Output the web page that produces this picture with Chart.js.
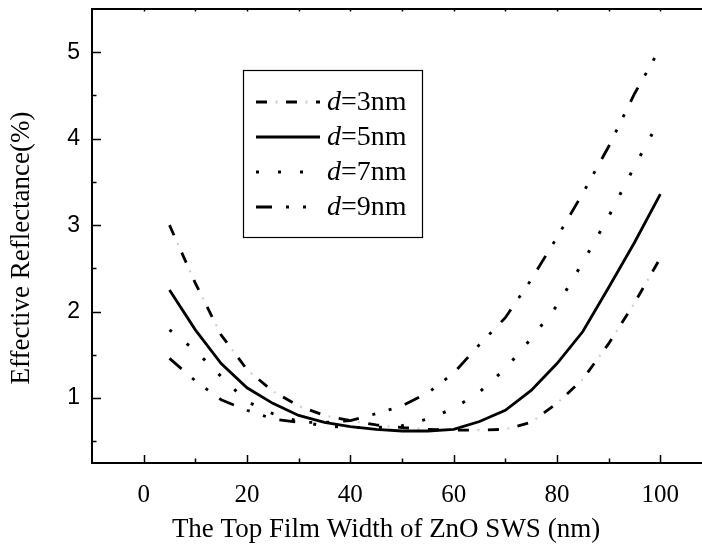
<!DOCTYPE html>
<html>
<head>
<meta charset="utf-8">
<script src="https://cdn.jsdelivr.net/npm/chart.js@4"></script>
<style>
  html, body { margin: 0; padding: 0; background: #fff; overflow: hidden; }
  #wrap { position: relative; width: 740px; height: 550px; }
</style>
</head>
<body>
<div id="wrap"><canvas id="chart"></canvas></div>
<script>
// Film width (nm)
const widths = [5, 10, 15, 20, 25, 30, 35, 40, 45, 50, 55, 60, 65, 70, 75, 80, 85, 90, 95, 100];
// Effective reflectance (%) per layer thickness d
const d3 = [3.00, 2.33, 1.73, 1.33, 1.08, 0.91, 0.80, 0.74, 0.69, 0.66, 0.64, 0.63, 0.63, 0.64, 0.72, 0.94, 1.22, 1.63, 2.10, 2.62];
const d5 = [2.25, 1.79, 1.40, 1.12, 0.94, 0.80, 0.72, 0.67, 0.64, 0.62, 0.62, 0.64, 0.73, 0.86, 1.09, 1.40, 1.77, 2.28, 2.80, 3.36];
const d7 = [1.79, 1.55, 1.25, 0.96, 0.82, 0.73, 0.68, 0.66, 0.66, 0.68, 0.76, 0.88, 1.07, 1.34, 1.69, 2.07, 2.57, 3.10, 3.68, 4.23];
const d9 = [1.46, 1.20, 0.98, 0.86, 0.76, 0.72, 0.72, 0.74, 0.82, 0.91, 1.06, 1.29, 1.62, 1.93, 2.37, 2.86, 3.37, 3.91, 4.52, 5.05];

const xTicks = [0, 20, 40, 60, 80, 100];
const yTicks = [1, 2, 3, 4, 5];
const legendLabels = ['3nm', '5nm', '7nm', '9nm'];

const xTitle = 'The Top Film Width of ZnO SWS (nm)';
const yTitle = 'Effective Reflectance(%)';

function pts(ys) {
    return widths.map((x, i) => ({ x: x, y: ys[i] }));
}

const styles = [
    { dash: [11, 19], width: 2.8 },
    { dash: [], width: 2.8 },
    { dash: [3, 19], width: 3 },
    { dash: [16, 14, 3, 14, 3, 14], width: 2.8 }
];
const series = [d3, d5, d7, d9];

const datasets = series.map((s, i) => ({
    label: 'd=' + legendLabels[i],
    data: pts(s),
    borderColor: '#000',
    borderWidth: styles[i].width,
    borderDash: styles[i].dash,
    borderCapStyle: 'butt',
    pointRadius: 0,
    tension: 0,
    fill: false
}));
// faint dots inside the gaps of the d=3nm dashes
datasets.push({
    label: 'd3-dots',
    data: pts(d3),
    borderColor: '#cfcfcf',
    borderWidth: 2.2,
    borderDash: [2, 28],
    borderDashOffset: 10.5,
    borderCapStyle: 'butt',
    pointRadius: 0,
    tension: 0,
    fill: false
});

// frame, inward ticks, titles and legend box
const framePlugin = {
    id: 'frame',
    afterDraw(chart) {
        const ctx = chart.ctx;
        const a = chart.chartArea;
        const xs = chart.scales.x, ys = chart.scales.y;
        ctx.save();
        ctx.strokeStyle = '#000';
        ctx.lineWidth = 2;
        ctx.strokeRect(a.left, a.top, a.right - a.left, a.bottom - a.top);

        ctx.lineWidth = 1.5;
        ctx.beginPath();
        for (let v = 0; v <= 110; v += 10) {
            const px = Math.round(xs.getPixelForValue(v)) + 0.5;
            const len = (v % 20 === 0) ? 8 : 4.5;
            ctx.moveTo(px, a.bottom);
            ctx.lineTo(px, a.bottom - len);
            ctx.moveTo(px, a.top);
            ctx.lineTo(px, a.top + 2.5);
        }
        for (let v = 0.5; v <= 5.01; v += 0.5) {
            const py = Math.round(ys.getPixelForValue(v)) + 0.5;
            const len = (Math.abs(v - Math.round(v)) < 0.01) ? 9 : 4.5;
            ctx.moveTo(a.left, py);
            ctx.lineTo(a.left + len, py);
        }
        ctx.stroke();

        // axis titles
        ctx.fillStyle = '#000';
        ctx.font = '27px "Liberation Serif", "Times New Roman", serif';
        ctx.textAlign = 'center';
        ctx.textBaseline = 'middle';
        ctx.fillText(xTitle, 386, 530);
        ctx.save();
        ctx.translate(22, 248);
        ctx.rotate(-Math.PI / 2);
        ctx.fillText(yTitle, 0, 0);
        ctx.restore();

        // legend
        ctx.lineWidth = 1.2;
        ctx.strokeRect(243.5, 70.5, 179, 167);
        const rows = [102, 137, 172, 207];
        ctx.textAlign = 'left';
        ctx.textBaseline = 'middle';
        rows.forEach((ry, i) => {
            ctx.beginPath();
            ctx.setLineDash(styles[i].dash);
            ctx.lineDashOffset = 0;
            ctx.lineWidth = styles[i].width;
            ctx.lineCap = 'butt';
            ctx.moveTo(256, ry);
            ctx.lineTo(320, ry);
            ctx.stroke();
            if (i === 0) {
                ctx.beginPath();
                ctx.strokeStyle = '#cfcfcf';
                ctx.setLineDash([2, 28]);
                ctx.lineDashOffset = 10.5;
                ctx.moveTo(256, ry);
                ctx.lineTo(320, ry);
                ctx.stroke();
                ctx.strokeStyle = '#000';
            }
            ctx.setLineDash([]);
            ctx.font = 'italic 28px "Liberation Serif", serif';
            ctx.fillText('d', 327, ry + 1);
            const w = ctx.measureText('d').width;
            ctx.font = '28px "Liberation Serif", serif';
            ctx.fillText('=' + legendLabels[i], 327 + w, ry + 1);
        });
        ctx.restore();
    }
};

new Chart(document.getElementById('chart'), {
    type: 'line',
    data: { datasets: datasets },
    options: {
        responsive: true,
        maintainAspectRatio: false,
        animation: false,
        layout: { padding: { top: 9, right: 28, left: 0, bottom: 0 } },
        plugins: {
            legend: { display: false },
            tooltip: { enabled: false }
        },
        scales: {
            x: {
                type: 'linear',
                min: -10,
                max: 110,
                grid: { display: false, drawTicks: false },
                border: { display: false },
                afterBuildTicks: function(scale) {
                    scale.ticks = xTicks.map(v => ({ value: v }));
                },
                afterFit: function(scale) {
                    scale.height = 87;
                    scale.paddingLeft = 0;
                    scale.paddingRight = 0;
                },
                ticks: {
                    color: '#000',
                    padding: 17,
                    maxRotation: 0,
                    font: { family: '"Liberation Serif", serif', size: 25 }
                }
            },
            y: {
                type: 'linear',
                min: 0.25,
                max: 5.5,
                grid: { display: false, drawTicks: false },
                border: { display: false },
                afterBuildTicks: function(scale) {
                    scale.ticks = yTicks.map(v => ({ value: v }));
                },
                afterFit: function(scale) {
                    scale.width = 92;
                    scale.paddingTop = 0;
                    scale.paddingBottom = 0;
                },
                ticks: {
                    color: '#000',
                    padding: 12,
                    font: { family: '"Liberation Sans", Arial, sans-serif', size: 23 }
                }
            }
        }
    },
    plugins: [framePlugin]
});
</script>
</body>
</html>
